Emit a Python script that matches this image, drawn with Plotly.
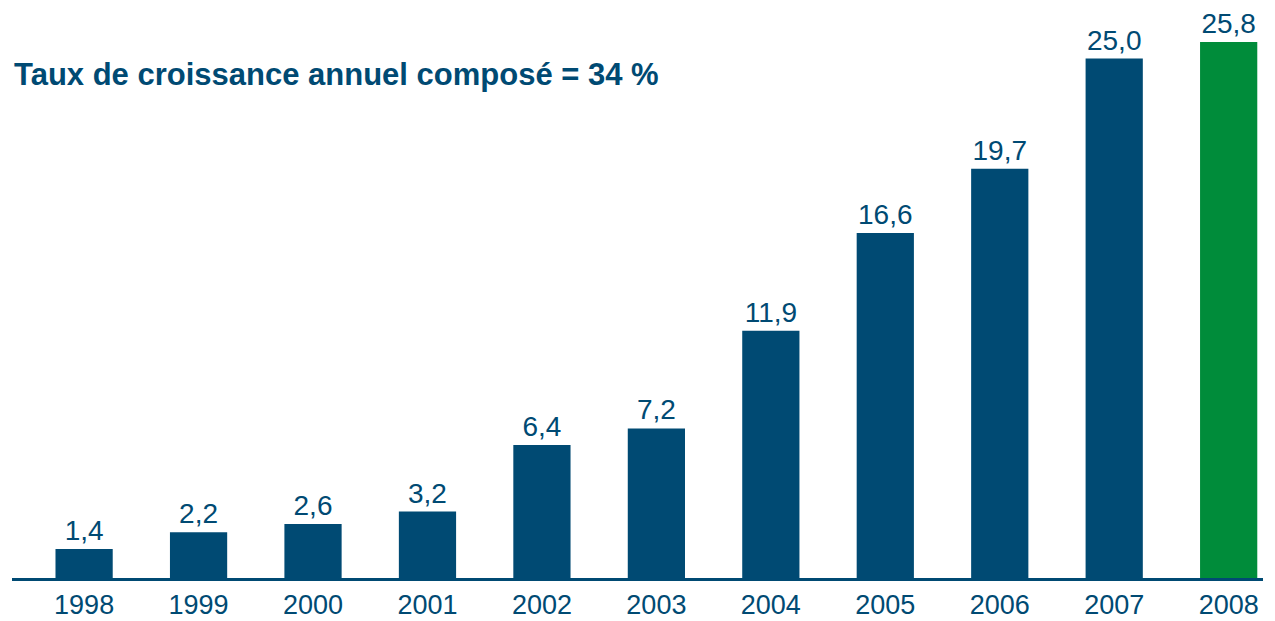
import plotly.graph_objects as go

years = ["1998", "1999", "2000", "2001", "2002", "2003", "2004", "2005", "2006", "2007", "2008"]
values = [1.4, 2.2, 2.6, 3.2, 6.4, 7.2, 11.9, 16.6, 19.7, 25.0, 25.8]
labels = ["1,4", "2,2", "2,6", "3,2", "6,4", "7,2", "11,9", "16,6", "19,7", "25,0", "25,8"]
title_text = "Taux de croissance annuel composé = 34 %"

BLUE = "#004a73"
GREEN = "#008c3a"
colors = [BLUE] * 10 + [GREEN]
FONT = "Liberation Sans, Arial, sans-serif"

fig = go.Figure(go.Bar(
    x=years, y=values, text=labels, textposition="outside",
    textfont=dict(size=28, color=BLUE, family=FONT),
    marker=dict(color=colors, line=dict(width=0)),
    width=0.5, cliponaxis=False,
))

fig.update_layout(
    width=1267, height=613,
    margin=dict(l=4, r=12, t=9, b=43, autoexpand=False),
    plot_bgcolor="white", paper_bgcolor="white",
    showlegend=False,
    font=dict(family=FONT, color=BLUE),
    xaxis=dict(type="category", range=[-0.63, 10.30], showgrid=False, automargin=False,
               showline=True, linecolor=BLUE, linewidth=2.5, ticks="",
               tickfont=dict(size=27, color=BLUE), ticklabelstandoff=1),
    yaxis=dict(range=[0, 27], visible=False, showgrid=False, zeroline=False, automargin=False),
    annotations=[dict(text="<b>" + title_text + "</b>", xref="paper", yref="paper", x=0, y=0.897,
                      xanchor="left", yanchor="middle", showarrow=False,
                      font=dict(size=31, color=BLUE))],
)

fig.write_html("out.html")
